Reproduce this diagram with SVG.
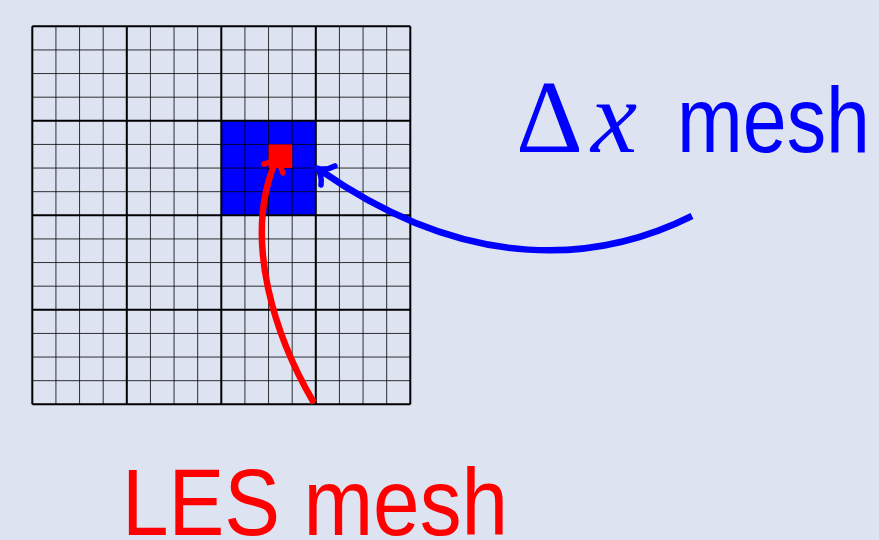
<svg xmlns="http://www.w3.org/2000/svg" width="879" height="540" viewBox="0 0 879 540">
<style>
.thin{stroke:#000;stroke-width:0.8;fill:none}
.thick{stroke:#000;stroke-width:2;fill:none}
.red{stroke:#ff0000;stroke-width:6.5;fill:none;stroke-linecap:butt}
.blue{stroke:#0000ff;stroke-width:6.5;fill:none;stroke-linecap:butt}
.head{stroke-width:5.5;stroke-linecap:round;stroke-linejoin:round;fill:none}
</style>
<rect x="0" y="0" width="879" height="540" fill="#dde3f1"/>
<g id="mesh">
<rect id="dx-cell" x="221.3" y="120.8" width="94.5" height="94.5" fill="#0000ff"/>
<path class="thin" d="M55.93,26.3V404.3M79.55,26.3V404.3M103.18,26.3V404.3M150.43,26.3V404.3M174.05,26.3V404.3M197.68,26.3V404.3M244.93,26.3V404.3M268.55,26.3V404.3M292.18,26.3V404.3M339.43,26.3V404.3M363.05,26.3V404.3M386.68,26.3V404.3M32.3,49.93H410.3M32.3,73.55H410.3M32.3,97.18H410.3M32.3,144.43H410.3M32.3,168.05H410.3M32.3,191.68H410.3M32.3,238.93H410.3M32.3,262.55H410.3M32.3,286.18H410.3M32.3,333.43H410.3M32.3,357.05H410.3M32.3,380.68H410.3"/>
<path class="thick" d="M32.3,26.3V404.3M126.8,26.3V404.3M221.3,26.3V404.3M315.8,26.3V404.3M410.3,26.3V404.3M32.3,26.3H410.3M32.3,120.8H410.3M32.3,215.3H410.3M32.3,309.8H410.3M32.3,404.3H410.3"/>
<rect id="les-cell" x="268.55" y="144.43" width="23.63" height="23.63" fill="#ff0000"/>
</g>
<g id="connectors">
<path class="red" d="M314,403 C278,342 240,240 277,158"/>
<path class="head" stroke="#ff0000" d="M264,164 Q273.3,161.7 280,155 Q278.7,164.3 283,173"/>
<path class="blue" d="M692,216 C600,262 470,275 320,170"/>
<path class="head" stroke="#0000ff" d="M335,166 Q326,171 317,168 Q322.4,175.8 321,185"/>
</g>
<g id="label-dx">
<text x="516" y="152" font-family="'Liberation Serif', serif" font-size="104" fill="#0000ff">Δ<tspan x="591" font-style="italic">x</tspan></text>
<text x="677" y="152" font-family="'Liberation Sans', sans-serif" font-size="92" fill="#0000ff" textLength="193" lengthAdjust="spacingAndGlyphs">mesh</text>
</g>
<g id="label-les">
<text x="122" y="535" font-family="'Liberation Sans', sans-serif" font-size="95" fill="#ff0000" textLength="386" lengthAdjust="spacingAndGlyphs">LES mesh</text>
</g>
</svg>
